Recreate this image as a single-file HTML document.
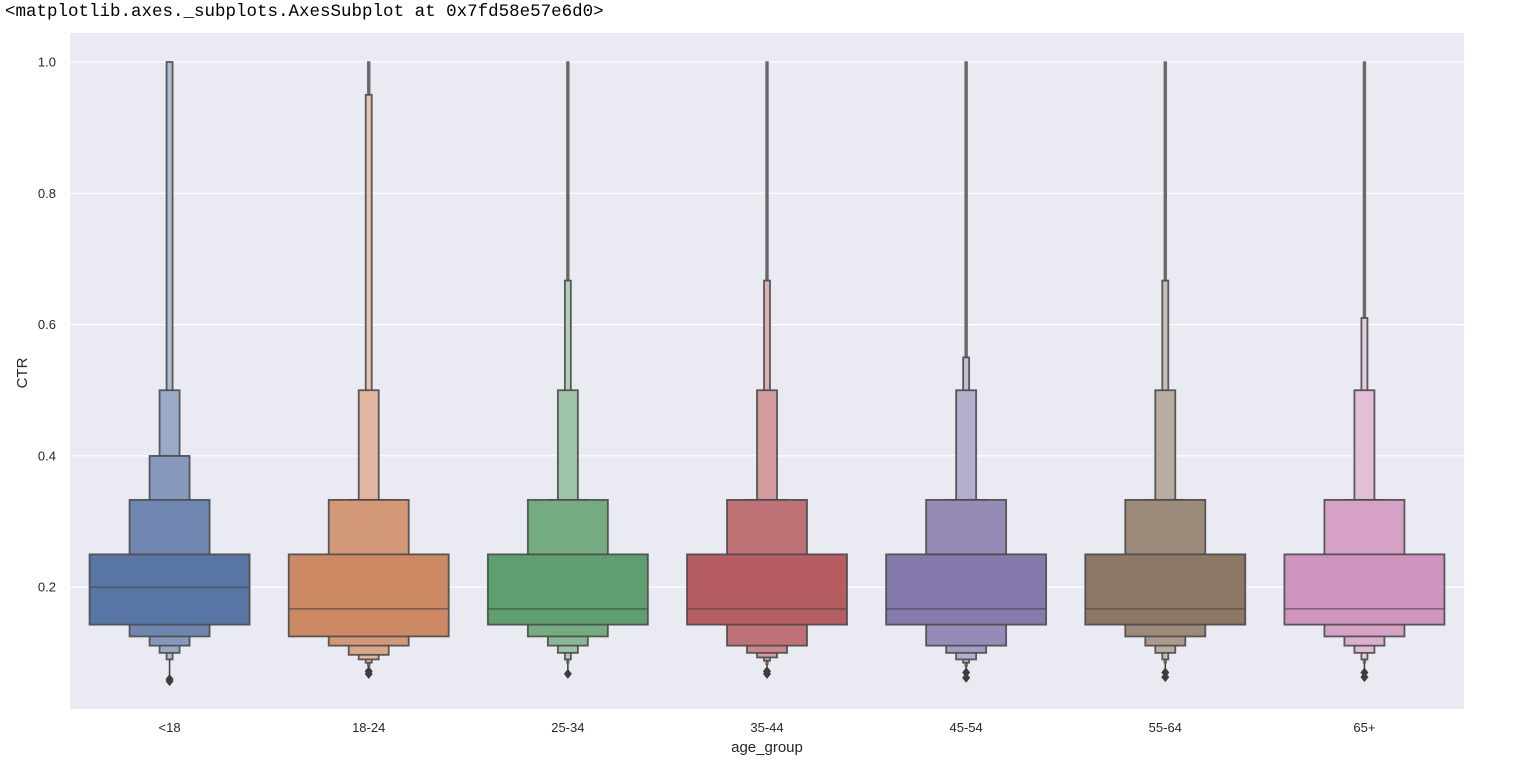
<!DOCTYPE html>
<html><head><meta charset="utf-8"><style>
body{margin:0;background:#fff;width:1523px;height:767px;overflow:hidden}
#hdr{position:absolute;left:5px;top:2px;font:17.5px "Liberation Mono",monospace;color:#000;white-space:pre}
svg{position:absolute;left:0;top:0}
</style></head><body>
<div id="hdr">&lt;matplotlib.axes._subplots.AxesSubplot at 0x7fd58e57e6d0&gt;</div>
<svg id="chart" width="1523" height="767"></svg>
<script>
const categories=["<18","18-24","25-34","35-44","45-54","55-64","65+"];
const colors=["#5975a4","#cc8963","#5f9e6e","#b55d60","#857aab","#8d7866","#d095bf"];
const medians=[0.2,0.167,0.167,0.167,0.167,0.167,0.167];
const uppers=[
 [0.25,0.333,0.4,0.5,1.0],
 [0.25,0.333,0.333,0.5,0.95,1.0],
 [0.25,0.333,0.333,0.5,0.667,1.0],
 [0.25,0.333,0.333,0.5,0.667,1.0],
 [0.25,0.333,0.333,0.5,0.55,1.0],
 [0.25,0.333,0.333,0.5,0.667,1.0],
 [0.25,0.333,0.333,0.5,0.61,1.0]];
const lowers=[
 [0.143,0.125,0.111,0.1,0.09],
 [0.125,0.111,0.097,0.09,0.085,0.08],
 [0.143,0.125,0.111,0.1,0.09,0.085],
 [0.143,0.111,0.1,0.093,0.088,0.083],
 [0.143,0.111,0.1,0.09,0.085,0.08],
 [0.143,0.125,0.111,0.1,0.09,0.085],
 [0.143,0.125,0.111,0.1,0.09,0.085]];
const outliers=[[0.06,0.057],[0.072,0.068],[0.068],[0.072,0.068],[0.07,0.062],[0.07,0.063],[0.07,0.063]];
const yTicks=[0.2,0.4,0.6,0.8,1.0];
const yTickLabels=["0.2","0.4","0.6","0.8","1.0"];

const NS="http://www.w3.org/2000/svg";
const svg=document.getElementById('chart');
const PX0=70,PX1=1464,PY0=33,PY1=709;
const y=v=>62+(1-v)*656.5;
const band=(PX1-PX0)/categories.length;
const x=i=>PX0+band*(i+0.5);
const widthsPx=[160,80,40,20,6,2];
function el(t,a,p){const e=document.createElementNS(NS,t);for(const k in a)e.setAttribute(k,a[k]);(p||svg).appendChild(e);return e;}
function mix(hex,f){const n=parseInt(hex.slice(1),16);let r=n>>16,g=(n>>8)&255,b=n&255;r=Math.round(r+(255-r)*f);g=Math.round(g+(255-g)*f);b=Math.round(b+(255-b)*f);return `rgb(${r},${g},${b})`;}

const bg=el('rect',{x:PX0,y:PY0,width:PX1-PX0,height:PY1-PY0,fill:'#eaeaf2'});


yTicks.forEach((t,i)=>{
  const g=el('line',{x1:PX0,x2:PX1,y1:y(t),y2:y(t),stroke:'#fff','stroke-width':1.2});
  
  
  const l=el('text',{x:56,y:y(t)+4.5,'text-anchor':'end','font-size':13,fill:'#262626','font-family':'Liberation Sans, sans-serif'});
  l.textContent=yTickLabels[i];
  
  
});
categories.forEach((c,i)=>{
  const g=el('g',{});
  
  
  const cx=x(i);
  const n=uppers[i].length;
  for(let k=n-1;k>=0;k--){
    const w=widthsPx[k];
    const top=y(uppers[i][k]),bot=y(lowers[i][k]!==undefined?lowers[i][k]:lowers[i][lowers[i].length-1]);
    const thin=w<5;
    const fill=thin?'#666':mix(colors[i],Math.min(k*0.13,0.6));
    const r=el('rect',{x:cx-w/2,y:top,width:w,height:Math.max(bot-top,0.5),fill:fill,stroke:thin?'#666':'#4a4a4a','stroke-width':thin?1.5:1.8,'stroke-opacity':0.9},g);
    
    
  }
  const m=el('line',{x1:cx-80,x2:cx+80,y1:y(medians[i]),y2:y(medians[i]),stroke:'#4a4a4a','stroke-width':1.5,'stroke-opacity':0.7},g);
  
  
  const lastLo=lowers[i][lowers[i].length-1];
  const t=el('line',{x1:cx,x2:cx,y1:y(lastLo),y2:y(outliers[i][0]),stroke:'#3d3d3d','stroke-width':1.5},g);
  
  
  outliers[i].forEach(o=>{
    const yy=y(o);
    const d=el('path',{d:`M${cx} ${yy-5}L${cx+4} ${yy}L${cx} ${yy+5}L${cx-4} ${yy}Z`,fill:'#3d3d3d'},g);
    
    
  });
  const l=el('text',{x:cx,y:732,'text-anchor':'middle','font-size':13,fill:'#262626','font-family':'Liberation Sans, sans-serif'});
  l.textContent=c;
  
  
});
const xt=el('text',{x:(PX0+PX1)/2,y:752,'text-anchor':'middle','font-size':15,fill:'#262626','font-family':'Liberation Sans, sans-serif'});
xt.textContent='age_group';


const yt=el('text',{x:0,y:0,transform:'translate(27,373) rotate(-90)','text-anchor':'middle','font-size':15,fill:'#262626','font-family':'Liberation Sans, sans-serif'});
yt.textContent='CTR';


</script>
</body></html>
